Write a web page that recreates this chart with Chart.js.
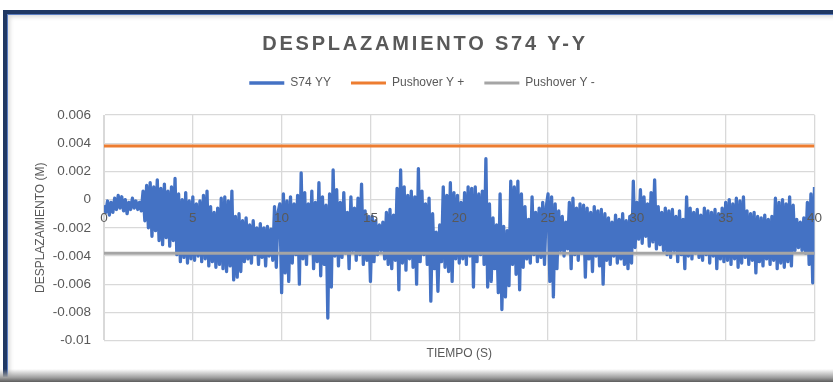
<!DOCTYPE html>
<html lang="es">
<head>
<meta charset="utf-8">
<title>Desplazamiento S74 Y-Y</title>
<script src="https://cdn.jsdelivr.net/npm/chart.js@4.4.1/dist/chart.umd.min.js"></script>
<style>
	html, body { margin: 0; padding: 0; background: #fff; }
	#sheet { position: relative; width: 833px; height: 382px; overflow: hidden; background: #fff; }
	#frame {
		position: absolute; left: 3px; top: 10px; width: 900px; height: 420px;
		border-left: 4px solid #1f3763; border-top: 4px solid #1f3763;
		box-shadow: inset 1px 1px 0 #5a7cc0, inset 3px 3px 4px rgba(0, 0, 0, 0.15);
	}
	#shade {
		position: absolute; left: 0; right: 0; bottom: 0; height: 13px;
		background: linear-gradient(to bottom, rgba(255, 255, 255, 0), #a0a0a0 65%, #5c5c5c);
	}
	#chart { position: absolute; left: 0; top: 0; }
</style>
</head>
<body>
<div id="sheet">
	<div id="frame"></div>
	<div id="shade"></div>
	<canvas id="chart" width="833" height="382"></canvas>
</div>
<script>
const TITLE = "DESPLAZAMIENTO S74 Y-Y";
const SERIES_NAMES = ["S74 YY", "Pushover Y +", "Pushover Y -"];
const X_TITLE = "TIEMPO (S)";
const Y_TITLE = "DESPLAZAMIENTO (M)";
const TIME_RANGE = [0, 40];
const TIME_TICK = 5;
const DISP_RANGE = [-0.01, 0.006];
const DISP_TICK = 0.002;

// S74 displacement record (m), sampled every 0.1 s, split in 5 s blocks
const SAMPLE_STEP = 0.1;
const s74_00_05 = [
	-0.0004, -0.0009, -0.0001, -0.0011, -0.0002, -0.0009, 0.0001, -0.0007, 0.0003, -0.0006,
	0.0002, -0.0008, 0.0000, -0.0010, -0.0002, -0.0007, 0.0001, -0.0006, -0.0001, -0.0007,
	-0.0002, -0.0008, 0.0006, -0.0015, 0.0010, -0.0020, 0.0012, -0.0026, 0.0009, -0.0022,
	0.0014, -0.0029, 0.0008, -0.0032, 0.0011, -0.0027, 0.0006, -0.0033, 0.0009, -0.0029,
	0.0015, -0.0039, 0.0004, -0.0044, 0.0000, -0.0041, 0.0005, -0.0045, -0.0001, -0.0042
];
const s74_05_10 = [
	0.0002, -0.0043, -0.0003, -0.0040, -0.0001, -0.0044, 0.0003, -0.0042, 0.0006, -0.0047,
	-0.0005, -0.0044, -0.0009, -0.0048, -0.0006, -0.0046, 0.0001, -0.0049, 0.0002, -0.0051,
	-0.0001, -0.0047, 0.0006, -0.0057, -0.0012, -0.0055, -0.0010, -0.0051, -0.0015, -0.0044,
	-0.0013, -0.0042, -0.0018, -0.0045, -0.0015, -0.0039, -0.0020, -0.0046, -0.0017, -0.0041,
	-0.0020, -0.0047, -0.0019, -0.0040, -0.0021, -0.0043, -0.0005, -0.0048, -0.0009, -0.0003
];
const s74_10_15 = [
	-0.0066, 0.0004, -0.0052, -0.0001, -0.0058, 0.0002, -0.0045, -0.0003, -0.0039, 0.0003,
	-0.0060, 0.0019, -0.0042, 0.0005, -0.0046, -0.0003, -0.0038, 0.0006, -0.0049, -0.0002,
	-0.0044, 0.0012, -0.0054, 0.0002, -0.0046, -0.0004, -0.0084, 0.0004, -0.0062, 0.0021,
	-0.0040, 0.0007, -0.0047, -0.0002, -0.0041, 0.0005, -0.0038, -0.0009, -0.0049, 0.0002,
	-0.0036, -0.0006, -0.0043, 0.0001, -0.0039, 0.0011, -0.0046, -0.0008, -0.0043, -0.0012
];
const s74_15_20 = [
	-0.0058, -0.0012, -0.0044, -0.0015, -0.0039, -0.0018, -0.0036, -0.0016, -0.0042, -0.0009,
	-0.0046, -0.0007, -0.0049, -0.0011, -0.0043, 0.0008, -0.0064, 0.0021, -0.0045, 0.0009,
	-0.0050, 0.0003, -0.0042, 0.0006, -0.0048, 0.0002, -0.0060, 0.0022, -0.0044, 0.0006,
	-0.0039, -0.0003, -0.0046, 0.0001, -0.0072, -0.0010, -0.0049, -0.0023, -0.0065, -0.0018,
	-0.0044, 0.0009, -0.0048, 0.0003, -0.0051, 0.0012, -0.0058, 0.0005, -0.0042, 0.0003
];
const s74_20_25 = [
	-0.0045, -0.0002, -0.0042, 0.0005, -0.0046, 0.0009, -0.0040, 0.0008, -0.0062, 0.0009,
	-0.0044, 0.0004, -0.0039, 0.0006, -0.0046, 0.0029, -0.0062, -0.0003, -0.0058, -0.0013,
	-0.0049, -0.0018, -0.0066, 0.0004, -0.0078, -0.0019, -0.0069, -0.0022, -0.0061, 0.0013,
	-0.0046, 0.0009, -0.0053, 0.0013, -0.0064, 0.0004, -0.0048, -0.0005, -0.0042, -0.0014,
	-0.0045, 0.0002, -0.0039, -0.0009, -0.0044, -0.0006, -0.0041, -0.0002, -0.0046, -0.0005
];
const s74_25_30 = [
	0.0004, -0.0058, 0.0002, -0.0069, -0.0003, -0.0049, -0.0008, -0.0036, -0.0012, -0.0040,
	-0.0016, -0.0035, -0.0002, -0.0049, 0.0001, -0.0039, -0.0006, -0.0043, -0.0003, -0.0038,
	-0.0004, -0.0055, -0.0006, -0.0042, -0.0009, -0.0051, -0.0005, -0.0040, -0.0008, -0.0047,
	-0.0007, -0.0060, -0.0010, -0.0043, -0.0013, -0.0046, -0.0016, -0.0040, -0.0011, -0.0045,
	-0.0014, -0.0042, -0.0010, -0.0046, -0.0015, -0.0049, -0.0012, -0.0045, 0.0013, -0.0034
];
const s74_30_35 = [
	-0.0002, -0.0028, 0.0007, -0.0031, 0.0002, -0.0026, -0.0003, -0.0033, 0.0005, -0.0030,
	0.0014, -0.0035, -0.0005, -0.0032, -0.0009, -0.0036, -0.0006, -0.0039, -0.0008, -0.0041,
	-0.0007, -0.0036, -0.0012, -0.0044, -0.0008, -0.0039, -0.0014, -0.0049, 0.0002, -0.0040,
	-0.0006, -0.0042, -0.0009, -0.0038, -0.0007, -0.0041, -0.0011, -0.0043, -0.0006, -0.0039,
	-0.0008, -0.0045, -0.0009, -0.0040, -0.0007, -0.0049, -0.0010, -0.0042, -0.0006, -0.0044
];
const s74_35_40 = [
	-0.0002, -0.0043, 0.0000, -0.0046, -0.0003, -0.0042, 0.0001, -0.0048, -0.0001, -0.0045,
	0.0002, -0.0041, -0.0008, -0.0046, -0.0010, -0.0043, -0.0009, -0.0052, -0.0012, -0.0044,
	-0.0013, -0.0047, -0.0011, -0.0042, -0.0014, -0.0046, -0.0012, -0.0043, 0.0001, -0.0049,
	-0.0002, -0.0045, 0.0000, -0.0048, -0.0003, -0.0044, 0.0002, -0.0047, -0.0004, -0.0036,
	-0.0014, -0.0034, -0.0016, -0.0036, -0.0013, -0.0038, -0.0002, -0.0046, 0.0004, -0.0059,
	0.0009
];

// pushover limits, constant over the record
const pushoverTimes = [0, 40];
const pushoverPos = [0.0038, 0.0038];
const pushoverNeg = [-0.0038, -0.0038];

const FONT = "'Liberation Sans', Arial, sans-serif";
const TEXT = "#595959";
const GRID = "#d9d9d9";

const s74 = [].concat(s74_00_05, s74_05_10, s74_10_15, s74_15_20,
	s74_20_25, s74_25_30, s74_30_35, s74_35_40);

const toPoints = (times, values) => values.map((v, i) => ({ x: times[i], y: v }));
const s74Points = s74.map((v, i) => ({ x: +(i * SAMPLE_STEP).toFixed(1), y: v }));

// title with letter spacing, plus extra room under the legend
const sheetDecor = {
	id: "sheetDecor",
	afterInit(chart) {
		const legend = chart.legend;
		const fit = legend.fit;
		legend.fit = function () {
			fit.call(this);
			this.height += 16;
		};
	},
	afterDraw(chart) {
		const ctx = chart.ctx;
		ctx.save();
		ctx.font = "bold 20px " + FONT;
		ctx.letterSpacing = "2.8px";
		ctx.fillStyle = TEXT;
		ctx.textAlign = "center";
		ctx.textBaseline = "middle";
		ctx.fillText(TITLE, 425, 44);
		ctx.restore();
	}
};

new Chart(document.getElementById("chart"), {
	type: "line",
	data: {
		datasets: [{
			label: SERIES_NAMES[0],
			data: s74Points,
			borderColor: "#4472c4",
			backgroundColor: "#4472c4",
			borderWidth: 3.3,
			borderJoinStyle: "round",
			pointRadius: 0,
			order: 2
		}, {
			label: SERIES_NAMES[1],
			data: toPoints(pushoverTimes, pushoverPos),
			borderColor: "#ed7d31",
			backgroundColor: "#ed7d31",
			borderWidth: 3,
			pointRadius: 0,
			order: 1
		}, {
			label: SERIES_NAMES[2],
			data: toPoints(pushoverTimes, pushoverNeg),
			borderColor: "#a5a5a5",
			backgroundColor: "#a5a5a5",
			borderWidth: 3,
			pointRadius: 0,
			order: 0
		}]
	},
	options: {
		responsive: false,
		animation: false,
		devicePixelRatio: 1,
		layout: { padding: { top: 57, left: 29, right: 18, bottom: 17 } },
		scales: {
			x: {
				type: "linear",
				position: "bottom",
				min: TIME_RANGE[0],
				max: TIME_RANGE[1],
				grid: { color: GRID, lineWidth: 1.3, drawTicks: false },
				border: { color: GRID },
				ticks: { display: false, stepSize: TIME_TICK },
				title: {
					display: true,
					text: X_TITLE,
					color: TEXT,
					font: { family: FONT, size: 12 },
					padding: { top: 6, bottom: 4 }
				}
			},
			xZero: {
				type: "linear",
				position: { y: 0 },
				min: TIME_RANGE[0],
				max: TIME_RANGE[1],
				grid: { display: false, drawTicks: false },
				border: { display: false },
				ticks: {
					stepSize: TIME_TICK,
					color: TEXT,
					font: { family: FONT, size: 13.5 },
					padding: 11,
					maxRotation: 0,
					z: 1
				}
			},
			y: {
				min: DISP_RANGE[0],
				max: DISP_RANGE[1],
				grid: { color: GRID, lineWidth: 1.3, drawTicks: false },
				border: { color: GRID },
				ticks: {
					stepSize: DISP_TICK,
					color: TEXT,
					font: { family: FONT, size: 13.5 },
					padding: 13,
					callback: (v) => String(Number(v.toFixed(3)))
				},
				title: {
					display: true,
					text: Y_TITLE,
					color: TEXT,
					font: { family: FONT, size: 12 },
					padding: { top: 4, bottom: 4 }
				},
				afterFit(scale) {
					scale.width = 75;
				}
			}
		},
		plugins: {
			legend: {
				position: "top",
				labels: {
					usePointStyle: true,
					pointStyle: "line",
					pointStyleWidth: 35,
					padding: 20,
					color: TEXT,
					font: { family: FONT, size: 12 },
					sort: (a, b) => a.datasetIndex - b.datasetIndex
				}
			},
			tooltip: { enabled: false }
		}
	},
	plugins: [sheetDecor]
});
</script>
</body>
</html>
